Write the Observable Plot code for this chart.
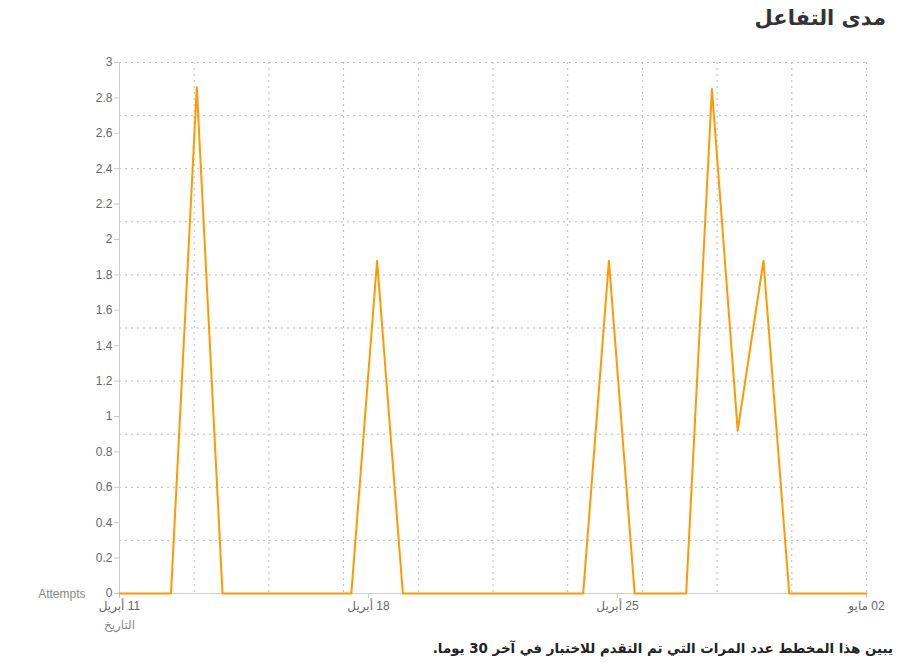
<!DOCTYPE html>
<html>
<head>
<meta charset="utf-8">
<script src="https://cdn.jsdelivr.net/npm/d3@7"></script>
<script src="https://cdn.jsdelivr.net/npm/@observablehq/plot@0.6"></script>
<style>
  html, body { margin: 0; padding: 0; background: #fff; }
  body { width: 914px; height: 663px; position: relative; overflow: hidden; font-family: "Liberation Sans", Arial, "DejaVu Sans", sans-serif; }
  #title { position: absolute; top: 6px; right: 28px; font-size: 21px; font-weight: bold; color: #333; direction: rtl; font-family: "DejaVu Sans", sans-serif; }
  #chart { position: absolute; top: 45px; left: 0; }
  #caption { position: absolute; top: 641px; right: 21px; font-size: 13.4px; font-weight: bold; color: #222; direction: rtl; font-family: "DejaVu Sans", sans-serif; }
</style>
</head>
<body>
<div id="title">مدى التفاعل</div>
<div id="chart"></div>
<div id="caption">يبين هذا المخطط عدد المرات التي تم التقدم للاختبار في آخر 30 يوما.</div>
<script>
// Data: attempts per day over the last 30 days (index 0..29)
const dayIndex = [0,1,2,3,4,5,6,7,8,9,10,11,12,13,14,15,16,17,18,19,20,21,22,23,24,25,26,27,28,29];
const attempts = [0,0,0,2.86,0,0,0,0,0,0,1.88,0,0,0,0,0,0,0,0,1.88,0,0,0,2.85,0.92,1.88,0,0,0,0];

// Tick labels
const xTickLabels = ["11 أبريل", "18 أبريل", "25 أبريل", "02 مايو"];
const xTickPositions = [0, 29 / 3, 58 / 3, 29];
const yTickValues = [0, 0.2, 0.4, 0.6, 0.8, 1, 1.2, 1.4, 1.6, 1.8, 2, 2.2, 2.4, 2.6, 2.8, 3];
const yGridValues = [0.3, 0.6, 0.9, 1.2, 1.5, 1.8, 2.1, 2.4, 2.7, 3];
const xGridValues = [2.9, 5.8, 8.7, 11.6, 14.5, 17.4, 20.3, 23.2, 26.1, 29];
const yLabel = "Attempts";
const xLabel = "التاريخ";

const data = dayIndex.map((d, i) => ({day: d, value: attempts[i]}));

const gridStyle = {stroke: "#bbb", strokeOpacity: 1, strokeDasharray: "2,4", strokeWidth: 1};

const chart = Plot.plot({
  width: 914,
  height: 600,
  marginTop: 17,
  marginLeft: 119,
  marginRight: 48,
  marginBottom: 52,
  style: {fontFamily: "'Liberation Sans', Arial, 'DejaVu Sans', sans-serif", fontSize: "12px", color: "#666", background: "transparent"},
  x: {domain: [0, 29]},
  y: {domain: [0, 3]},
  marks: [
    Plot.gridY(yGridValues, gridStyle),
    Plot.gridX(xGridValues, gridStyle),
    Plot.ruleX([0], {stroke: "#ccc", strokeWidth: 1}),
    Plot.ruleY([0], {stroke: "#ccc", strokeWidth: 1}),
    Plot.axisY(yTickValues, {
      tickSize: 5, tickPadding: 2, stroke: "#ccc", fill: "#666", fontSize: 12,
      tickFormat: d => String(+d.toFixed(1)), label: null
    }),
    Plot.axisX(xTickPositions, {
      tickSize: 5, tickPadding: 3, stroke: "#ccc", fill: "#666", fontSize: 12,
      tickFormat: (d, i) => xTickLabels[i], label: null
    }),
    Plot.line(data, {x: "day", y: "value", stroke: "#ff9900", strokeWidth: 2}),
    Plot.text([yLabel], {frameAnchor: "bottom-left", dx: -34, dy: 4, textAnchor: "end", fill: "#888", fontSize: 12}),
    Plot.text([xLabel], {frameAnchor: "bottom-left", dx: 0, dy: 35, textAnchor: "middle", fill: "#888", fontSize: 12})
  ]
});
// Right-to-left reading order for the Arabic date labels (number on the right)
d3.select(chart).selectAll('g[aria-label="x-axis tick label"] text').attr("direction", "rtl");
document.getElementById("chart").appendChild(chart);
</script>
</body>
</html>
